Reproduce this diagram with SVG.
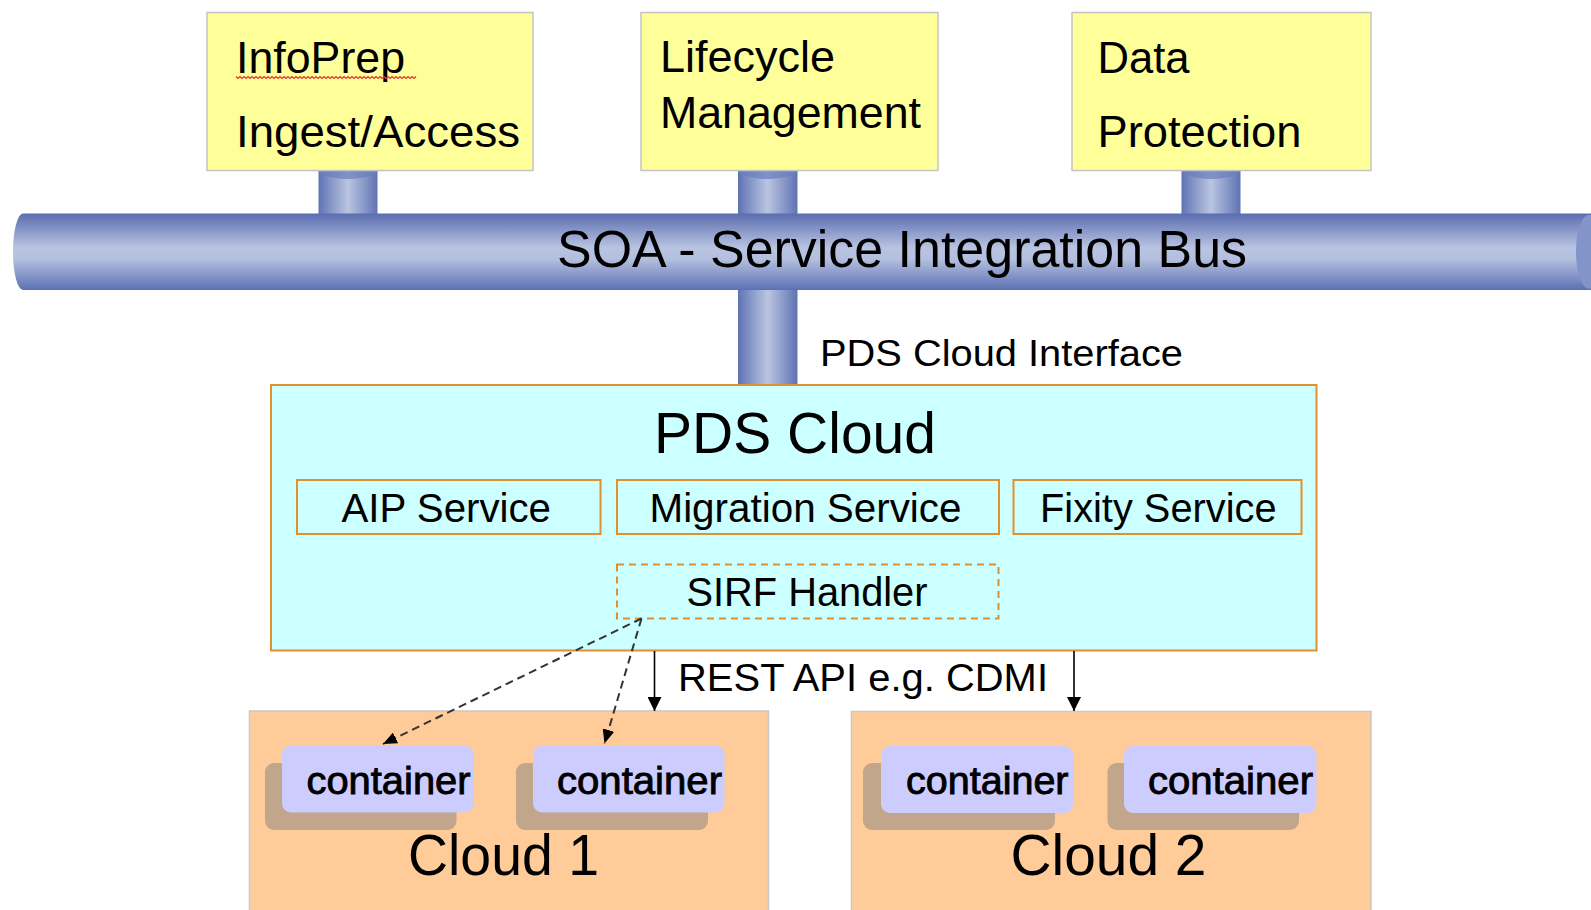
<svg xmlns="http://www.w3.org/2000/svg" width="1591" height="910" viewBox="0 0 1591 910">
  <style>
    text { font-family: "Liberation Sans", Arial, sans-serif; fill: #000; }
    .app { fill: #FFFF99; stroke: #C4C4C4; stroke-width: 1.5; }
    .t44 { font-size: 44px; }
    .svc { fill: none; stroke: #E0902C; stroke-width: 2; }
    .svc-t { font-size: 40px; }
    .cloud { fill: #FFCC99; stroke: #C8C8C8; stroke-width: 1.5; }
    .ctr { fill: #CCCCFF; }
    .ctr-shadow { fill: #C1A68C; }
    .ctr-t { font-size: 39px; stroke: #000; stroke-width: 0.9; }
    .cloud-t { font-size: 57px; }
    .stub { fill: url(#stubGrad); }
    .stub-cap { fill: #6C80BE; opacity: 0.75; }
    .solid { stroke: #000; stroke-width: 1.6; fill: none; }
    .dash { stroke: #333; stroke-width: 2; stroke-dasharray: 8 5; fill: none; }
  </style>
  <defs>
    <linearGradient id="busGrad" x1="0" y1="0" x2="0" y2="1">
      <stop offset="0" stop-color="#5A6DB0"/>
      <stop offset="0.45" stop-color="#B9C4E1"/>
      <stop offset="0.6" stop-color="#B3BFDE"/>
      <stop offset="1" stop-color="#5C70B3"/>
    </linearGradient>
    <linearGradient id="stubGrad" x1="0" y1="0" x2="1" y2="0">
      <stop offset="0" stop-color="#5F73B4"/>
      <stop offset="0.5" stop-color="#BAC5E1"/>
      <stop offset="1" stop-color="#5F73B4"/>
    </linearGradient>
    <marker id="arrow" viewBox="0 0 14 14" refX="14" refY="7" markerWidth="14" markerHeight="14" markerUnits="userSpaceOnUse" orient="auto">
      <path d="M0,0 L14,7 L0,14 Z" fill="#000"/>
    </marker>
    <marker id="arrowSmall" viewBox="0 0 14 12" refX="14" refY="6" markerWidth="14" markerHeight="12" markerUnits="userSpaceOnUse" orient="auto">
      <path d="M0,0 L14,6 L0,12 Z" fill="#000"/>
    </marker>
  </defs>

  <rect width="1591" height="910" fill="#FFFFFF"/>

  <!-- pipes joining the applications to the bus -->
  <g id="stubs">
    <rect class="stub" x="318.5" y="170" width="59" height="45"/>
    <ellipse class="stub-cap" cx="348" cy="170" rx="29.5" ry="9"/>
    <rect class="stub" x="738" y="170" width="59.5" height="45"/>
    <ellipse class="stub-cap" cx="767.75" cy="170" rx="29.75" ry="9"/>
    <rect class="stub" x="1181.5" y="170" width="59" height="45"/>
    <ellipse class="stub-cap" cx="1211" cy="170" rx="29.5" ry="9"/>
    <rect class="stub" x="738" y="288" width="59.5" height="97"/>
  </g>

  <!-- service bus -->
  <g id="bus">
    <path d="M23,213.5 H1600 V290 H23 A10,38.25 0 0 1 23,213.5 Z" fill="url(#busGrad)"/>
    <ellipse cx="1589" cy="251.75" rx="13" ry="37" fill="#8394CB"/>
    <text x="557" y="266.7" font-size="51" textLength="690" lengthAdjust="spacingAndGlyphs">SOA - Service Integration Bus</text>
  </g>

  <!-- applications -->
  <g id="infoprep">
    <rect class="app" x="207" y="12.5" width="326" height="158"/>
    <text class="t44" x="236" y="73" textLength="169" lengthAdjust="spacingAndGlyphs">InfoPrep</text>
    <path d="M236,76.5 l2,2 2,-2 2,2 2,-2 2,2 2,-2 2,2 2,-2 2,2 2,-2 2,2 2,-2 2,2 2,-2 2,2 2,-2 2,2 2,-2 2,2 2,-2 2,2 2,-2 2,2 2,-2 2,2 2,-2 2,2 2,-2 2,2 2,-2 2,2 2,-2 2,2 2,-2 2,2 2,-2 2,2 2,-2 2,2 2,-2 2,2 2,-2 2,2 2,-2 2,2 2,-2 2,2 2,-2 2,2 2,-2 2,2 2,-2 2,2 2,-2 2,2 2,-2 2,2 2,-2 2,2 2,-2 2,2 2,-2 2,2 2,-2 2,2 2,-2 2,2 2,-2 2,2 2,-2 2,2 2,-2 2,2 2,-2 2,2 2,-2 2,2 2,-2 2,2 2,-2 2,2 2,-2 2,2 2,-2 2,2 2,-2 2,2 2,-2 2,2 2,-2" fill="none" stroke="#F03030" stroke-width="1.2"/>
    <text class="t44" x="236" y="147" textLength="284" lengthAdjust="spacingAndGlyphs">Ingest/Access</text>
  </g>
  <g id="lifecycle">
    <rect class="app" x="641" y="12.5" width="297" height="158"/>
    <text class="t44" x="660" y="72" textLength="175" lengthAdjust="spacingAndGlyphs">Lifecycle</text>
    <text class="t44" x="660" y="128" textLength="261" lengthAdjust="spacingAndGlyphs">Management</text>
  </g>
  <g id="dataprotection">
    <rect class="app" x="1072" y="12.5" width="299" height="158"/>
    <text class="t44" x="1097.5" y="73" textLength="92" lengthAdjust="spacingAndGlyphs">Data</text>
    <text class="t44" x="1097.5" y="147" textLength="204" lengthAdjust="spacingAndGlyphs">Protection</text>
  </g>

  <g id="interface-label">
    <text x="820" y="366" font-size="37" textLength="363" lengthAdjust="spacingAndGlyphs">PDS Cloud Interface</text>
  </g>

  <!-- PDS Cloud and its services -->
  <g id="pdscloud">
    <rect x="271" y="385" width="1045.5" height="265.5" fill="#CCFFFF" stroke="#E0902C" stroke-width="2"/>
    <text x="654" y="452.7" font-size="58" textLength="282" lengthAdjust="spacingAndGlyphs">PDS Cloud</text>
  </g>
  <g id="aip">
    <rect class="svc" x="297" y="480" width="303.5" height="54"/>
    <text class="svc-t" x="341.5" y="522" textLength="209.5" lengthAdjust="spacingAndGlyphs">AIP Service</text>
  </g>
  <g id="migration">
    <rect class="svc" x="617" y="480" width="382" height="54"/>
    <text class="svc-t" x="649.5" y="522" textLength="312" lengthAdjust="spacingAndGlyphs">Migration Service</text>
  </g>
  <g id="fixity">
    <rect class="svc" x="1013.5" y="480" width="288" height="54"/>
    <text class="svc-t" x="1040" y="522" textLength="236.5" lengthAdjust="spacingAndGlyphs">Fixity Service</text>
  </g>
  <g id="sirf">
    <rect x="617" y="564.5" width="381.5" height="54" fill="none" stroke="#E0902C" stroke-width="2" stroke-dasharray="7 5"/>
    <text class="svc-t" x="686.5" y="606" textLength="241" lengthAdjust="spacingAndGlyphs">SIRF Handler</text>
  </g>

  <!-- storage clouds -->
  <g id="cloud1">
    <rect class="cloud" x="249.5" y="711" width="519" height="215"/>
    <text class="cloud-t" x="408" y="875" textLength="191" lengthAdjust="spacingAndGlyphs">Cloud 1</text>
  </g>
  <g id="cloud2">
    <rect class="cloud" x="851.5" y="711.5" width="519.5" height="215"/>
    <text class="cloud-t" x="1010.5" y="874.5" textLength="196" lengthAdjust="spacingAndGlyphs">Cloud 2</text>
  </g>

  <g id="container1">
    <rect class="ctr-shadow" x="265" y="763" width="191.5" height="67" rx="9"/>
    <rect class="ctr" x="282" y="745.5" width="191.5" height="67" rx="9"/>
    <text class="ctr-t" x="306.5" y="793.5" textLength="164" lengthAdjust="spacingAndGlyphs">container</text>
  </g>
  <g id="container2">
    <rect class="ctr-shadow" x="516" y="763" width="192" height="67" rx="9"/>
    <rect class="ctr" x="533" y="745.5" width="191.5" height="67" rx="9"/>
    <text class="ctr-t" x="557" y="793.5" textLength="165" lengthAdjust="spacingAndGlyphs">container</text>
  </g>
  <g id="container3">
    <rect class="ctr-shadow" x="863" y="763" width="192" height="67" rx="9"/>
    <rect class="ctr" x="881" y="746" width="192" height="67" rx="9"/>
    <text class="ctr-t" x="906" y="793.5" textLength="162.5" lengthAdjust="spacingAndGlyphs">container</text>
  </g>
  <g id="container4">
    <rect class="ctr-shadow" x="1107.5" y="763" width="191.5" height="67" rx="9"/>
    <rect class="ctr" x="1124" y="746" width="192.5" height="67" rx="9"/>
    <text class="ctr-t" x="1148" y="793.5" textLength="165" lengthAdjust="spacingAndGlyphs">container</text>
  </g>

  <!-- connectors -->
  <g id="connectors">
    <line class="solid" x1="654.5" y1="651" x2="654.5" y2="711" marker-end="url(#arrow)"/>
    <line class="solid" x1="1074" y1="651" x2="1074" y2="711" marker-end="url(#arrow)"/>
    <line class="dash" x1="641.5" y1="618.5" x2="383" y2="744" marker-end="url(#arrowSmall)"/>
    <line class="dash" x1="641.5" y1="618.5" x2="604.5" y2="743.5" marker-end="url(#arrowSmall)"/>
    <text x="678" y="691" font-size="38" textLength="370" lengthAdjust="spacingAndGlyphs">REST API e.g. CDMI</text>
  </g>
</svg>
